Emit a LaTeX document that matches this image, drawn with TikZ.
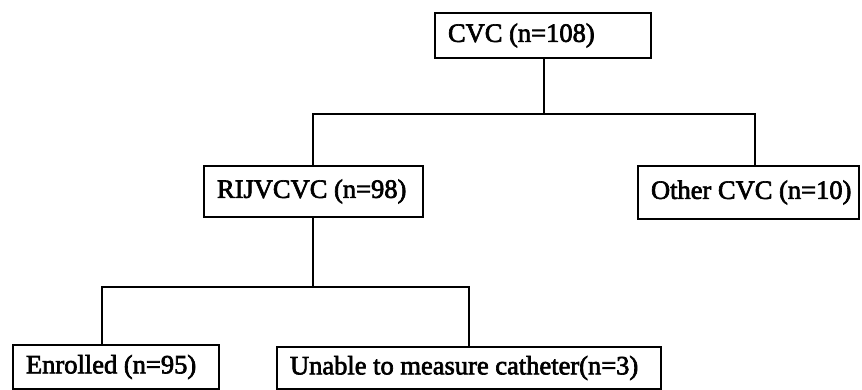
\documentclass[tikz,border=0pt]{standalone}
\usepackage{fontspec}
\setmainfont{Liberation Serif}
\newfontfamily\boxfont[FakeBold=2.5]{Liberation Serif}
\newcommand{\boxtext}[2]{\makebox[#1][l]{#2}}
\begin{document}
\begin{tikzpicture}[
  x=1pt, y=-1pt,
  block/.style={rectangle, draw, line width=1.8pt, inner xsep=13pt, font=\boxfont\fontsize{26.5}{30}\selectfont},
  link/.style={line width=1.8pt}
]
\useasboundingbox (0,0) rectangle (862,390);
\node[block, minimum height=45pt] (cvc) at (543,35.5) {\boxtext{190pt}{CVC (n=108)}};
\node[block, minimum height=51pt] (rij) at (313.5,191.5) {\boxtext{193pt}{RIJVCVC (n=98)}};
\node[block, minimum height=53pt] (other) at (748.5,192.5) {\boxtext{195pt}{Other CVC (n=10)}};
\node[block, minimum height=44pt] (enr) at (116,367) {\boxtext{180pt}{Enrolled (n=95)}};
\node[block, minimum height=42pt] (unable) at (469,368) {\boxtext{358pt}{Unable to measure catheter(n=3)}};

\coordinate (top_split) at (544,114);
\coordinate (rij_split) at (313,287);

\draw[link] (cvc.south -| top_split) -- (top_split);
\draw[link] (rij.north -| rij_split) |- (top_split) -| ([xshift=6.5pt]other.north);
\draw[link] (rij.south -| rij_split) -- (rij_split);
\draw[link] ([xshift=-14pt]enr.north) |- (rij_split) -| (unable.north);
\end{tikzpicture}
\end{document}
